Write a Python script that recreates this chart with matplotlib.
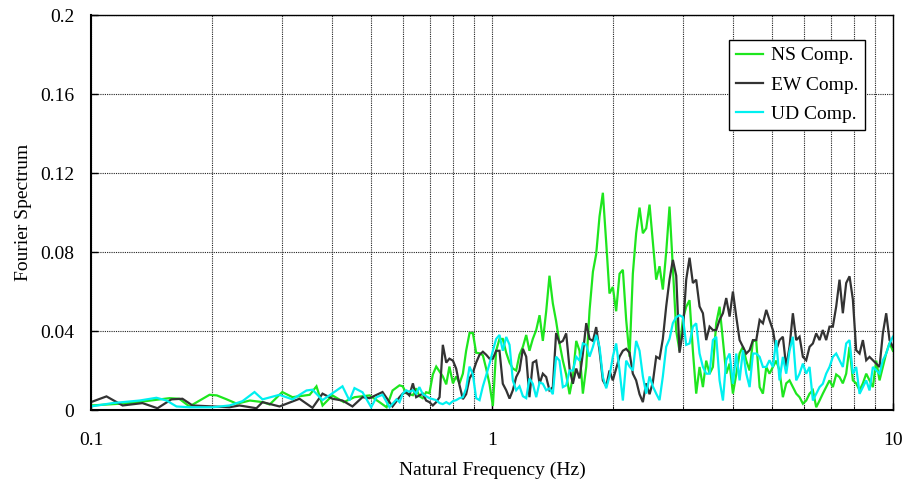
import matplotlib
matplotlib.use("Agg")
import matplotlib.pyplot as plt
from matplotlib.ticker import FixedLocator, NullFormatter, LogLocator

plt.rcParams['font.family'] = ['Liberation Serif', 'DejaVu Serif']
plt.rcParams['font.size'] = 14

# ---------------- data ----------------
# low-frequency part (individual vertices per component)
ns_lo_freq = [0.100, 0.125, 0.157, 0.166, 0.176, 0.1975, 0.206, 0.218, 0.231, 0.249,
              0.268, 0.279, 0.300, 0.318, 0.351, 0.365, 0.378, 0.400, 0.427, 0.454,
              0.495, 0.524, 0.546, 0.565]
ns_lo_amp = [0.0023, 0.0035, 0.006, 0.0057, 0.0018, 0.0077, 0.0074, 0.0054, 0.0032, 0.0048,
             0.004, 0.0028, 0.0091, 0.0065, 0.0077, 0.012, 0.0023, 0.0074, 0.004, 0.0065,
             0.0074, 0.004, 0.0014, 0.0099]

ew_lo_freq = [0.100, 0.1093, 0.1199, 0.1344, 0.1465, 0.1587, 0.1691, 0.1791, 0.2009, 0.2215,
              0.2346, 0.2586, 0.2678, 0.2952, 0.3311, 0.3568, 0.3779, 0.4001, 0.4238, 0.4488,
              0.4754, 0.4951, 0.5333, 0.5648]
ew_lo_amp = [0.004, 0.0069, 0.0023, 0.0035, 0.0009, 0.0054, 0.0057, 0.0023, 0.0018, 0.0014,
             0.0023, 0.0009, 0.004, 0.0018, 0.0057, 0.0011, 0.0083, 0.0057, 0.0048, 0.0018,
             0.0065, 0.006, 0.0091, 0.0018]

ud_lo_freq = [0.100, 0.1131, 0.1321, 0.1456, 0.1544, 0.1634, 0.1760, 0.2009, 0.2215, 0.2387,
              0.2557, 0.2678, 0.2952, 0.3180, 0.3447, 0.3568, 0.3779, 0.4238, 0.4411, 0.4540,
              0.4754, 0.4997, 0.5152, 0.5333, 0.5552, 0.5778]
ud_lo_amp = [0.0018, 0.0035, 0.0048, 0.0062, 0.0048, 0.0018, 0.0014, 0.0014, 0.0023, 0.0045,
             0.0091, 0.0054, 0.0077, 0.0054, 0.0099, 0.0103, 0.005, 0.012, 0.0048, 0.0111,
             0.009, 0.0014, 0.0065, 0.0077, 0.0014, 0.0054]

# higher-frequency part (common frequency samples)
freq_hi = [0.588, 0.599, 0.611, 0.622, 0.635, 0.647, 0.659, 0.672, 0.685, 0.698,
           0.712, 0.726, 0.740, 0.754, 0.769, 0.783, 0.799, 0.814, 0.830, 0.846,
           0.862, 0.879, 0.896, 0.913, 0.931, 0.949, 0.967, 0.986, 1.005, 1.024,
           1.044, 1.064, 1.085, 1.106, 1.127, 1.149, 1.171, 1.194, 1.217, 1.240,
           1.264, 1.289, 1.314, 1.339, 1.365, 1.391, 1.418, 1.445, 1.473, 1.502,
           1.531, 1.561, 1.591, 1.622, 1.653, 1.685, 1.718, 1.751, 1.785, 1.819,
           1.854, 1.890, 1.927, 1.963, 2.001, 2.040, 2.080, 2.120, 2.161, 2.203,
           2.245, 2.288, 2.333, 2.378, 2.424, 2.471, 2.518, 2.567, 2.617, 2.667,
           2.719, 2.771, 2.825, 2.880, 2.935, 2.992, 3.050, 3.109, 3.169, 3.230,
           3.293, 3.357, 3.421, 3.488, 3.555, 3.624, 3.694, 3.766, 3.838, 3.913,
           3.988, 4.065, 4.144, 4.224, 4.306, 4.389, 4.474, 4.560, 4.649, 4.738,
           4.830, 4.920, 5.017, 5.114, 5.212, 5.313, 5.416, 5.520, 5.627, 5.736,
           5.847, 5.960, 6.075, 6.193, 6.312, 6.434, 6.559, 6.683, 6.812, 6.944,
           7.079, 7.216, 7.355, 7.497, 7.642, 7.790, 7.941, 8.094, 8.252, 8.411,
           8.574, 8.739, 8.908, 9.080, 9.255, 9.433, 9.616, 9.802, 9.991]

ns_hi = [0.0125, 0.012, 0.0085, 0.008, 0.0075, 0.011, 0.007, 0.006, 0.009, 0.0085,
         0.018, 0.022, 0.0195, 0.017, 0.013, 0.022, 0.0135, 0.017, 0.0135, 0.0184,
         0.030, 0.039, 0.039, 0.029, 0.0287, 0.0277, 0.021, 0.013, 0.002, 0.030,
         0.036, 0.036, 0.029, 0.024, 0.021, 0.020, 0.028, 0.032, 0.038, 0.030,
         0.036, 0.0405, 0.048, 0.035, 0.050, 0.068, 0.054, 0.045, 0.034, 0.025,
         0.018, 0.008, 0.0167, 0.035, 0.030, 0.0083, 0.022, 0.0505, 0.070, 0.079,
         0.098, 0.110, 0.0845, 0.059, 0.0623, 0.050, 0.069, 0.071, 0.0455, 0.027,
         0.069, 0.0895, 0.1025, 0.0895, 0.092, 0.104, 0.085, 0.066, 0.0728, 0.061,
         0.080, 0.103, 0.072, 0.040, 0.030, 0.046, 0.0523, 0.0556, 0.030, 0.0083,
         0.0218, 0.0116, 0.025, 0.0184, 0.0218, 0.044, 0.0523, 0.035, 0.0184, 0.0235,
         0.0083, 0.018, 0.0287, 0.032, 0.025, 0.020, 0.035, 0.035, 0.0116, 0.0083,
         0.0218, 0.0184, 0.0218, 0.025, 0.020, 0.0065, 0.0135, 0.015, 0.0116, 0.0083,
         0.0065, 0.0032, 0.0048, 0.0083, 0.010, 0.0014, 0.0048, 0.0083, 0.0116, 0.015,
         0.0116, 0.018, 0.0167, 0.0135, 0.0184, 0.032, 0.015, 0.0135, 0.010, 0.0135,
         0.0184, 0.015, 0.0116, 0.025, 0.015, 0.0218, 0.0287, 0.034, 0.030]

ew_hi = [0.0065, 0.0083, 0.009, 0.0074, 0.0135, 0.0065, 0.0074, 0.0083, 0.0048, 0.004,
         0.0023, 0.004, 0.0065, 0.033, 0.024, 0.026, 0.025, 0.021, 0.0125, 0.0055,
         0.008, 0.016, 0.019, 0.024, 0.028, 0.0295, 0.028, 0.026, 0.026, 0.030,
         0.030, 0.0133, 0.010, 0.0058, 0.010, 0.0167, 0.020, 0.031, 0.027, 0.0065,
         0.024, 0.025, 0.0133, 0.0184, 0.0167, 0.010, 0.0116, 0.039, 0.034, 0.035,
         0.0388, 0.021, 0.0133, 0.021, 0.016, 0.0286, 0.044, 0.036, 0.035, 0.042,
         0.030, 0.015, 0.012, 0.020, 0.015, 0.021, 0.027, 0.030, 0.031, 0.029,
         0.0184, 0.015, 0.008, 0.004, 0.0135, 0.008, 0.014, 0.027, 0.026, 0.036,
         0.0525, 0.066, 0.076, 0.068, 0.029, 0.040, 0.066, 0.0771, 0.0643, 0.066,
         0.0524, 0.049, 0.0354, 0.0422, 0.0405, 0.0405, 0.0456, 0.049, 0.0567, 0.0473,
         0.060, 0.0473, 0.0354, 0.032, 0.0286, 0.0303, 0.0354, 0.0354, 0.0456, 0.0439,
         0.0507, 0.0456, 0.0405, 0.0303, 0.0354, 0.0371, 0.0218, 0.032, 0.049, 0.0354,
         0.0371, 0.0269, 0.0252, 0.032, 0.0337, 0.0388, 0.0354, 0.0405, 0.0354, 0.0422,
         0.0422, 0.0524, 0.066, 0.049, 0.0643, 0.0677, 0.056, 0.0303, 0.0286, 0.0354,
         0.0252, 0.0269, 0.0252, 0.0235, 0.0218, 0.0388, 0.049, 0.0354, 0.032]

ud_hi = [0.004, 0.0083, 0.010, 0.0092, 0.010, 0.0083, 0.0116, 0.008, 0.007, 0.006,
         0.0055, 0.005, 0.0035, 0.003, 0.004, 0.003, 0.0045, 0.005, 0.006, 0.0065,
         0.011, 0.022, 0.018, 0.006, 0.005, 0.012, 0.0175, 0.0235, 0.030, 0.036,
         0.038, 0.030, 0.037, 0.033, 0.015, 0.010, 0.012, 0.007, 0.006, 0.016,
         0.0133, 0.0065, 0.014, 0.0133, 0.010, 0.011, 0.008, 0.027, 0.025, 0.0116,
         0.0125, 0.020, 0.020, 0.027, 0.025, 0.0337, 0.033, 0.027, 0.032, 0.038,
         0.032, 0.0167, 0.011, 0.017, 0.027, 0.0337, 0.020, 0.0048, 0.025, 0.022,
         0.020, 0.035, 0.030, 0.017, 0.0083, 0.017, 0.012, 0.0083, 0.005, 0.017,
         0.032, 0.036, 0.044, 0.047, 0.048, 0.047, 0.033, 0.0337, 0.0422, 0.0439,
         0.0286, 0.0218, 0.0184, 0.0184, 0.0354, 0.0371, 0.015, 0.0048, 0.0252, 0.0286,
         0.0133, 0.0286, 0.015, 0.0303, 0.0184, 0.0116, 0.0286, 0.0286, 0.0269, 0.0218,
         0.0218, 0.0252, 0.0218, 0.0354, 0.015, 0.0269, 0.0184, 0.030, 0.0371, 0.015,
         0.0184, 0.0235, 0.0184, 0.0218, 0.0048, 0.0082, 0.0116, 0.0133, 0.0184, 0.0218,
         0.0269, 0.0286, 0.0252, 0.0218, 0.0337, 0.0354, 0.0184, 0.0218, 0.0082, 0.0116,
         0.015, 0.0099, 0.0218, 0.0201, 0.0184, 0.0252, 0.0286, 0.0337, 0.0371]

labels = ["NS Comp.", "EW Comp.", "UD Comp."]
colors = ["#1EE61E", "#333333", "#00F0F0"]

x_ticks = [0.1, 1, 10]
x_tick_labels = ["0.1", "1", "10"]
y_ticks = [0, 0.04, 0.08, 0.12, 0.16, 0.2]
y_tick_labels = ["0", "0.04", "0.08", "0.12", "0.16", "0.2"]

# ---------------- plot ----------------
fig = plt.figure(figsize=(9.08, 4.83), dpi=100)
ax = fig.add_axes([0.1002, 0.1511, 0.8833, 0.8178])

series = [
    (ns_lo_freq + freq_hi, ns_lo_amp + ns_hi),
    (ew_lo_freq + freq_hi, ew_lo_amp + ew_hi),
    (ud_lo_freq + freq_hi, ud_lo_amp + ud_hi),
]
for (f, a), lab, c in zip(series, labels, colors):
    ax.plot(f, a, color=c, lw=1.6, label=lab, solid_joinstyle='miter')

ax.set_xscale('log')
ax.set_xlim(0.1, 10)
ax.set_ylim(0, 0.2)

ax.xaxis.set_major_locator(FixedLocator(x_ticks))
ax.set_xticklabels(x_tick_labels)
ax.xaxis.set_minor_locator(LogLocator(base=10, subs=[2, 3, 4, 5, 6, 7, 8, 9]))
ax.xaxis.set_minor_formatter(NullFormatter())
ax.set_yticks(y_ticks)
ax.set_yticklabels(y_tick_labels)

ax.tick_params(axis='both', which='major', direction='in', length=5, width=1, labelsize=14)
ax.tick_params(axis='x', which='major', pad=16)
ax.tick_params(axis='y', which='major', pad=12)
ax.tick_params(axis='x', which='minor', direction='in', length=3)

grid_kw = dict(color='#222222', linestyle=(0, (1, 1)), linewidth=0.8)
ax.grid(True, axis='x', which='both', **grid_kw)
ax.grid(True, axis='y', which='major', **grid_kw)
ax.set_axisbelow(True)

for sp in ax.spines.values():
    sp.set_linewidth(1.0)
    sp.set_color('black')
ax.spines['left'].set_linewidth(1.5)
ax.spines['bottom'].set_linewidth(1.5)

ax.set_xlabel("Natural Frequency (Hz)", fontsize=14, labelpad=9)
ax.set_ylabel("Fourier Spectrum", fontsize=14, labelpad=6)

leg = ax.legend(loc='upper right', bbox_to_anchor=(0.965, 0.937), borderaxespad=0,
                fontsize=14, handlelength=1.4, handletextpad=0.4, borderpad=0.35,
                labelspacing=0.6, fancybox=False, framealpha=1, edgecolor='black')
leg.get_frame().set_linewidth(1.0)

fig.savefig("out.png", dpi=100)
